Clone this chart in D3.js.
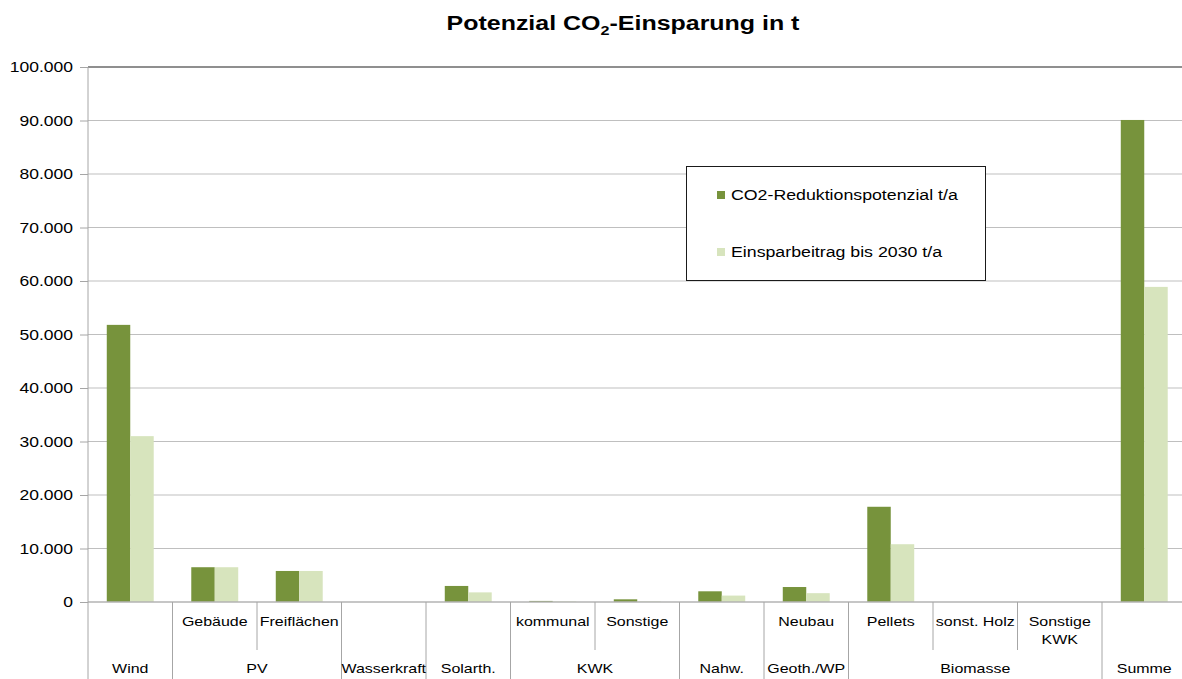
<!DOCTYPE html>
<html><head><meta charset="utf-8">
<script src="https://cdn.jsdelivr.net/npm/d3@7/dist/d3.min.js"></script>
<style>body{margin:0;background:#fff}svg{display:block;font-family:Arial,"Liberation Sans",sans-serif}</style>
</head><body><div id="chart"></div>
<script>
// ---- data ----
const categories = ["Wind","PV Gebäude","PV Freiflächen","Wasserkraft","Solarth.","KWK kommunal","KWK Sonstige","Nahw.","Geoth./WP Neubau","Biomasse Pellets","Biomasse sonst. Holz","Biomasse Sonstige KWK","Summe"];
const subLabels = ["","Gebäude","Freiflächen","","","kommunal","Sonstige","","Neubau","Pellets","sonst. Holz","Sonstige\nKWK",""];
const groupNames = ["Wind","PV","Wasserkraft","Solarth.","KWK","Nahw.","Geoth./WP","Biomasse","Summe"];
const groupSpans = [1,2,1,1,2,1,1,3,1];
const seriesNames = ["CO2-Reduktionspotenzial t/a","Einsparbeitrag bis 2030 t/a"];
const potenzial = [51800,6500,5800,0,3000,200,500,2000,2800,17800,0,0,90100];
const einspar   = [31000,6500,5800,0,1800,100,100,1200,1650,10800,0,0,58900];
const yTickValues = [0,10000,20000,30000,40000,50000,60000,70000,80000,90000,100000];
const seriesColors = ["#77933c","#d7e4bd"];

const W = 1182, H = 679;
const svg = d3.select("#chart").append("svg").attr("width", W).attr("height", H);
const fmt = d3.formatLocale({decimal:",", thousands:".", grouping:[3], currency:["","€"]}).format(",d");
const SX = 1.2;

function stext(g, x, y, txt, size, anchor, weight) {
  return g.append("text")
    .attr("transform", `translate(${x},${y}) scale(${SX},1)`)
    .attr("text-anchor", anchor || "middle")
    .attr("dy", "0.35em")
    .attr("font-size", size)
    .attr("font-weight", weight || "normal")
    .attr("fill", "#000")
    .text(txt);
}

const x = d3.scaleBand().domain(d3.range(categories.length)).range([88, 1186.5]).padding(0);
const xs = d3.scaleBand().domain(seriesNames).range([0, x.bandwidth()]).paddingOuter(0.8).paddingInner(0);
const y = d3.scaleLinear().domain([0, 100000]).range([602, 67]);

// gridlines
svg.append("g").selectAll("line").data(yTickValues.filter(v => v > 0)).join("line")
  .attr("x1", 88).attr("x2", W).attr("y1", d => y(d)).attr("y2", d => y(d))
  .attr("stroke", d => d === 100000 ? "#6a6a6a" : "#bfbfbf").attr("stroke-width", d => d === 100000 ? 1.5 : 1);

// y axis ticks
const yAxis = svg.append("g").attr("transform", "translate(88,0)")
  .call(d3.axisLeft(y).tickValues(yTickValues).tickSize(8).tickFormat(""));
yAxis.select(".domain").remove();
yAxis.selectAll("line").attr("stroke", "#a6a6a6");
const yl = svg.append("g");
yTickValues.forEach(v => stext(yl, 73, y(v), fmt(v), 14.6, "end"));

// bars
const series = [potenzial, einspar];
const bars = svg.append("g");
series.forEach((vals, si) => {
  bars.append("g").selectAll("rect").data(vals).join("rect")
    .attr("x", (d, i) => x(i) + xs(seriesNames[si]))
    .attr("width", xs.bandwidth())
    .attr("y", d => y(d))
    .attr("height", d => y(0) - y(d))
    .attr("fill", seriesColors[si]);
});

// axes lines
svg.append("line").attr("x1", 88).attr("x2", W).attr("y1", y(0)).attr("y2", y(0)).attr("stroke", "#b3b3b3").attr("stroke-width", 1.5);
svg.append("line").attr("x1", 88).attr("x2", 88).attr("y1", y(100000)).attr("y2", H).attr("stroke", "#a6a6a6");

// separators
const outerIdx = new Set([0]);
let acc = 0;
groupSpans.forEach(s => { acc += s; outerIdx.add(acc); });
const seps = d3.range(1, categories.length + 1);
svg.append("g").selectAll("line").data(seps).join("line")
  .attr("x1", k => (k < categories.length ? x(k) : x.range()[1]))
  .attr("x2", k => (k < categories.length ? x(k) : x.range()[1]))
  .attr("y1", y(0)).attr("y2", k => outerIdx.has(k) ? H : 650)
  .attr("stroke", "#a6a6a6");

// category labels
const cl = svg.append("g");
subLabels.forEach((lab, i) => {
  if (!lab) return;
  const lines = lab.split("\n");
  lines.forEach((ln, j) => stext(cl, x(i) + x.bandwidth() / 2, 621 + j * 18, ln, 13.3));
});
acc = 0;
groupNames.forEach((g, gi) => {
  const start = x(acc);
  const end = start + x.bandwidth() * groupSpans[gi];
  stext(cl, (start + end) / 2, 668, g, 13.3);
  acc += groupSpans[gi];
});

// title
const t = svg.append("text")
  .attr("transform", `translate(623,23) scale(${SX},1)`)
  .attr("text-anchor", "middle").attr("dy", "0.35em")
  .attr("font-size", 20.8).attr("font-weight", "bold");
t.append("tspan").text("Potenzial CO");
t.append("tspan").attr("font-size", 13.5).attr("dy", 5).text("2");
t.append("tspan").attr("dy", -5).text("-Einsparung in t");

// legend
const lg = svg.append("g");
lg.append("rect").attr("x", 686.5).attr("y", 166.5).attr("width", 299).attr("height", 114)
  .attr("fill", "#fff").attr("stroke", "#1a1a1a");
seriesNames.forEach((s, i) => {
  const cy = 195 + i * 57;
  lg.append("rect").attr("x", 717).attr("y", cy - 4).attr("width", 8).attr("height", 8).attr("fill", seriesColors[i]);
  stext(lg, 731, cy, s, 14.8, "start");
});
</script></body></html>
